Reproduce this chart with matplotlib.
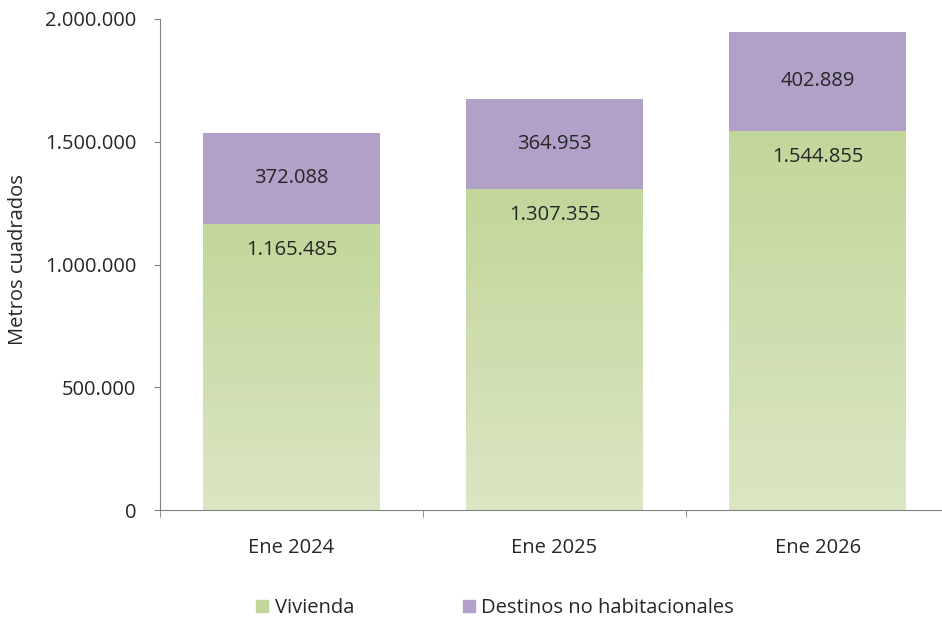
import numpy as np
import matplotlib
matplotlib.use("Agg")
import matplotlib.pyplot as plt
from matplotlib.ticker import FuncFormatter, FixedLocator
from matplotlib.colors import LinearSegmentedColormap
from matplotlib.lines import Line2D

plt.rcParams['font.family'] = ['Open Sans', 'DejaVu Sans']

categorias = ["Ene 2024", "Ene 2025", "Ene 2026"]
vivienda = [1165485, 1307355, 1544855]
no_habitacional = [372088, 364953, 402889]

verde_top = "#c2d69a"
verde_bot = "#dbe6c4"
morado = "#b1a0c7"
texto = "#262626"
fs = 14.5

def fmt_miles(v):
    return f"{int(round(v)):,}".replace(",", ".")

fig = plt.figure(figsize=(9.42, 6.23), dpi=100)
ax = fig.add_axes([160/942, 1 - 510/623, (942-160)/942, (510-19)/623])

x = np.arange(len(categorias))
ancho = 0.67

# tramo vivienda con degradado vertical
cmap = LinearSegmentedColormap.from_list("verde", [verde_bot, verde_top])
grad = np.linspace(0, 1, 256).reshape(-1, 1)
barras_v = ax.bar(x, vivienda, width=ancho, color="none", edgecolor="none")
for b in barras_v:
    x0, h = b.get_x(), b.get_height()
    im = ax.imshow(grad, cmap=cmap, origin="lower", aspect="auto",
                   extent=[x0, x0 + ancho, 0, h], zorder=1)
    im.set_clip_path(b)

barras_p = ax.bar(x, no_habitacional, bottom=vivienda, width=ancho, color=morado,
                  edgecolor="none", zorder=2)

for i in range(len(categorias)):
    ax.text(x[i], vivienda[i] - 107000, fmt_miles(vivienda[i]), ha="center", va="center",
            fontsize=fs, color=texto, zorder=3)
    ax.text(x[i], vivienda[i] + no_habitacional[i] / 2, fmt_miles(no_habitacional[i]),
            ha="center", va="center", fontsize=fs, color=texto, zorder=3)

ax.set_xlim(-0.5, 2.473)
ax.set_ylim(0, 2000000)
ax.set_yticks([0, 500000, 1000000, 1500000, 2000000])
ax.yaxis.set_major_formatter(FuncFormatter(lambda v, p: fmt_miles(v)))
ax.set_xticks(x)
ax.set_xticklabels(categorias)
ax.xaxis.set_minor_locator(FixedLocator([-0.5, 0.5, 1.5, 2.5]))
ax.tick_params(axis="x", which="major", length=0, pad=20, labelsize=fs, labelcolor=texto)
ax.tick_params(axis="x", which="minor", length=5, color="#808080", direction="out")
ax.tick_params(axis="y", length=4, color="#808080", labelsize=fs, labelcolor=texto, pad=13)

for s in ["top", "right"]:
    ax.spines[s].set_visible(False)
ax.spines["left"].set_color("#808080")
ax.spines["bottom"].set_color("#808080")

fig.text(18/942, 1 - 260/623, "Metros cuadrados", rotation=90, ha="center", va="center",
         fontsize=fs, color=texto)

handles = [Line2D([], [], marker="s", linestyle="none", markersize=9, color=verde_top),
           Line2D([], [], marker="s", linestyle="none", markersize=9, color=morado)]
fig.legend(handles, ["Vivienda", "Destinos no habitacionales"], loc="center",
           bbox_to_anchor=(494/942, 1 - 608/623), ncol=2, frameon=False, fontsize=fs,
           handletextpad=0.2, columnspacing=5.3, handlelength=0.8, labelcolor=texto)

fig.savefig("out.png", dpi=100)
